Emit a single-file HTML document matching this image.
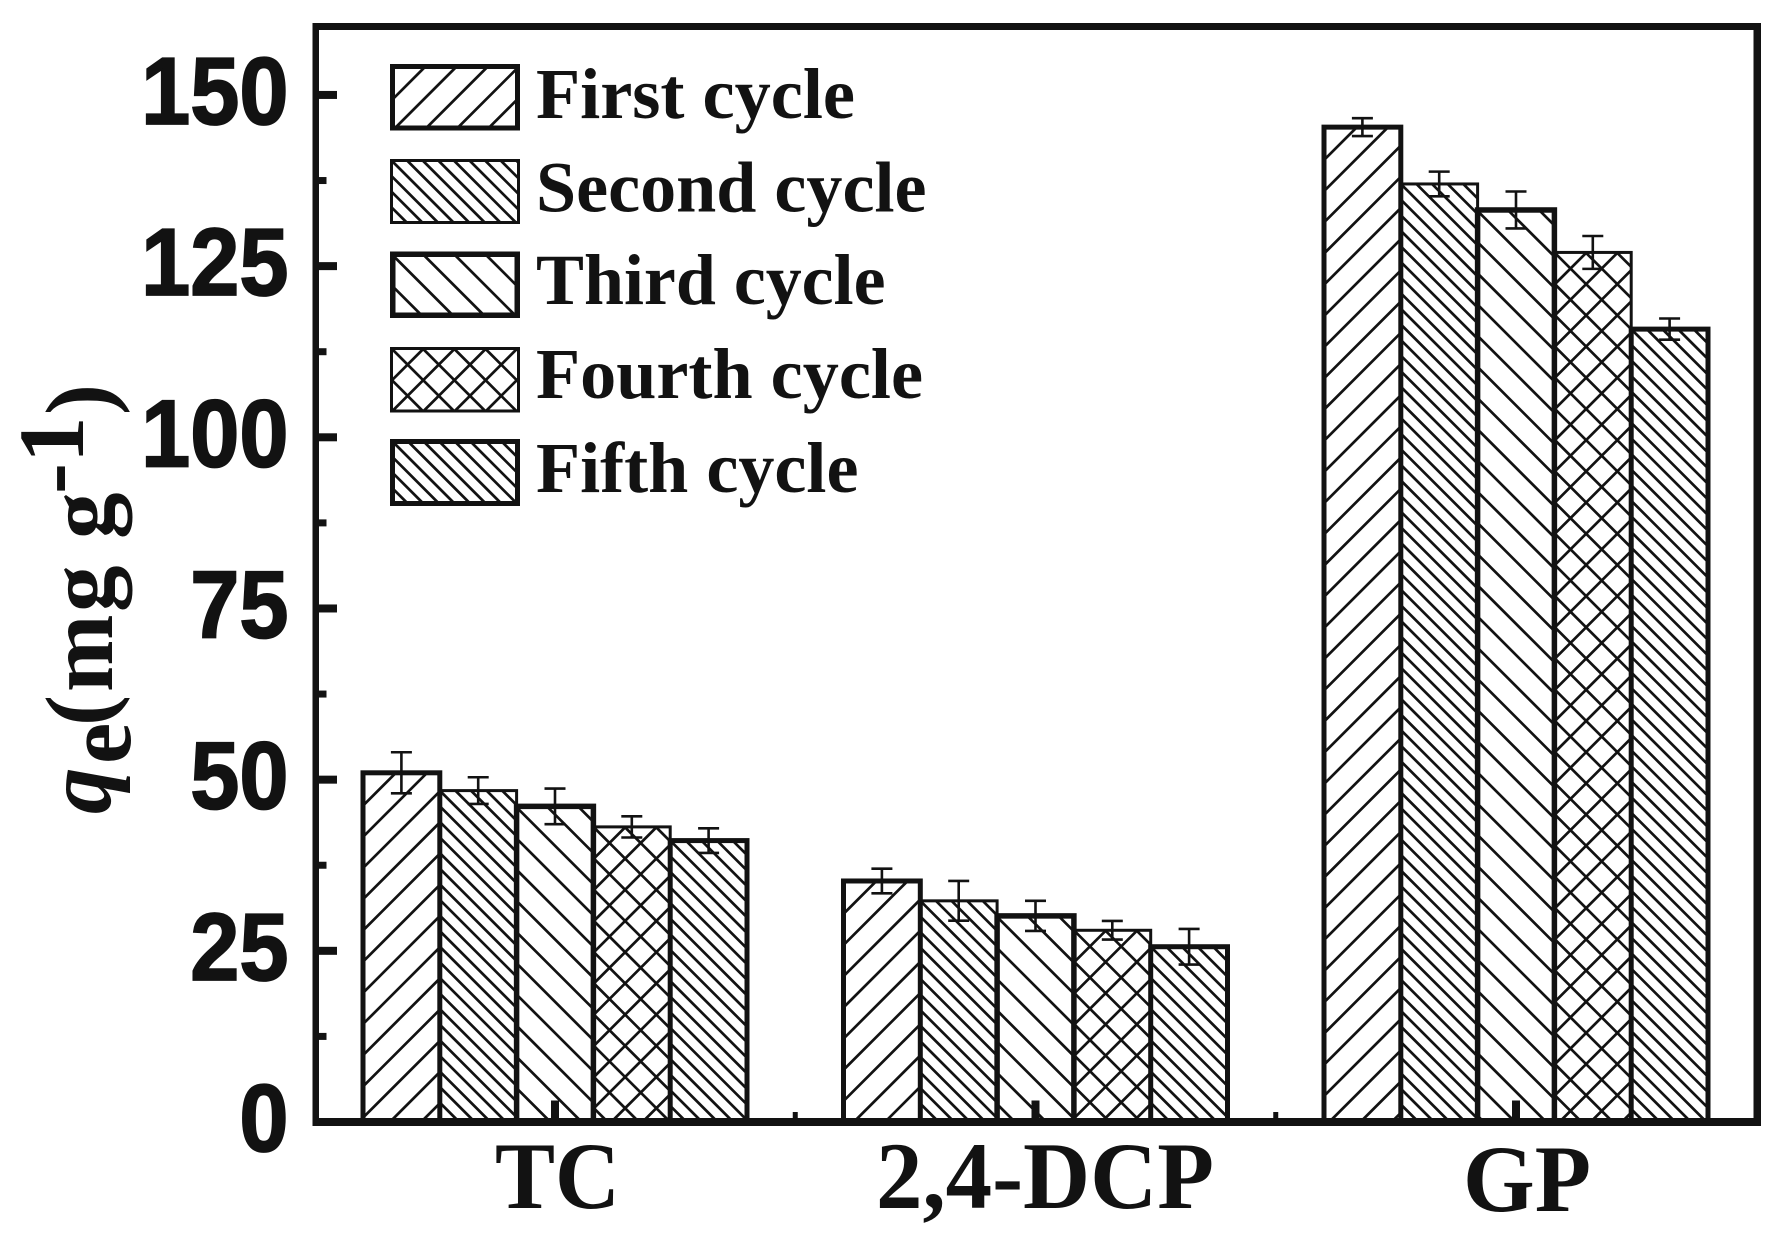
<!DOCTYPE html>
<html lang="en">
<head>
<meta charset="utf-8">
<title>Adsorption capacity over five cycles</title>
<style>
html,body{margin:0;padding:0;background:#fff;}
svg{display:block;}
.tick-label{font-family:"Liberation Sans",Arial,sans-serif;font-weight:700;font-size:96px;fill:#121212;stroke:#121212;stroke-width:1.8px;text-anchor:end;}
.serif{font-family:"Liberation Serif","Times New Roman",serif;font-weight:700;fill:#121212;}
</style>
</head>
<body>
<svg id="chart" xmlns="http://www.w3.org/2000/svg" width="1781" height="1243" viewBox="0 0 1781 1243">
  <rect x="0" y="0" width="1781" height="1243" fill="#ffffff"/>
  <g id="bars"></g>
  <g id="errors"></g>
  <g id="legend"></g>
  <g id="axes" fill="#121212">
    <rect x="312.5" y="23" width="1448.5" height="7"/>
    <rect x="1753.5" y="23" width="7.5" height="1103"/>
    <rect x="312.5" y="23" width="6.5" height="1103"/>
    <rect x="312.5" y="1118" width="1448.5" height="8"/>
  </g>
  <g id="y-ticks"></g>
  <g id="x-ticks"></g>
  <g transform="translate(112,815) rotate(-90)">
    <text class="serif" font-size="93" xml:space="preserve"><tspan x="1" y="-2" font-style="italic">q</tspan><tspan x="51" y="18">e</tspan><tspan x="89" y="-2">(</tspan><tspan x="123" y="0">m</tspan><tspan x="203" y="0">g</tspan> <tspan x="276" y="0">g</tspan><tspan x="321" y="-29">-</tspan><tspan x="352" y="-29">1</tspan><tspan x="400" y="-2">)</tspan></text>
  </g>
</svg>
<script>
// ---- chart data ----
const categories = ["TC", "2,4-DCP", "GP"];
const seriesNames = ["First cycle", "Second cycle", "Third cycle", "Fourth cycle", "Fifth cycle"];
const firstCycle  = [51.0, 35.2, 145.3];
const secondCycle = [48.4, 32.3, 137.0];
const thirdCycle  = [46.1, 30.1, 133.2];
const fourthCycle = [43.1, 28.0, 127.0];
const fifthCycle  = [41.1, 25.6, 115.8];
const firstError  = [3.0, 1.8, 1.3];
const secondError = [1.95, 2.9, 1.8];
const thirdError  = [2.6, 2.2, 2.7];
const fourthError = [1.55, 1.36, 2.4];
const fifthError  = [1.8, 2.6, 1.55];
const yTickLabels = ["0", "25", "50", "75", "100", "125", "150"];

const seriesValues = [firstCycle, secondCycle, thirdCycle, fourthCycle, fifthCycle];
const seriesErrors = [firstError, secondError, thirdError, fourthError, fifthError];

// ---- axis functions ----
const SVGNS = "http://www.w3.org/2000/svg";
const INK = "#121212";
const Y_ZERO = 1122, Y_PER_UNIT = 6.847;
const X_FIRST = 555, X_STEP = 480.5, BAR_W = 76.8;
function yScale(v) { return Y_ZERO - v * Y_PER_UNIT; }
function xCenter(i) { return X_FIRST + i * X_STEP; }
function barLeft(i, s) { return xCenter(i) + (s - 2.5) * BAR_W; }

// ---- series styling ----
const PERIOD = 31.2;
const hatchKinds = ["fwd", "backFine", "back", "cross", "backFine"];
const strokeWidths = [5, 3, 5.5, 3, 5];

function hatchPath(left, top, w, h, kind) {
  let d = "";
  function fwd(P, a) {
    const base = left + top + a;
    for (let n = -1; base + n * P < left + w + top + h; n++) {
      const s = base + n * P;
      if (s <= left + top) continue;
      const x1 = Math.max(left, s - (top + h));
      const x2 = Math.min(left + w, s - top);
      if (x2 > x1) d += "M" + x1.toFixed(2) + "," + (s - x1).toFixed(2) + "L" + x2.toFixed(2) + "," + (s - x2).toFixed(2);
    }
  }
  function back(P, a) {
    const base = left - top + a;
    for (let n = Math.ceil((h + P) / P) * -1; base + n * P < left + w - top; n++) {
      const k = base + n * P;
      const x1 = Math.max(left, k + top);
      const x2 = Math.min(left + w, k + top + h);
      if (x2 > x1) d += "M" + x1.toFixed(2) + "," + (x1 - k).toFixed(2) + "L" + x2.toFixed(2) + "," + (x2 - k).toFixed(2);
    }
  }
  if (kind === "fwd") fwd(PERIOD, 1.7);
  if (kind === "back") back(PERIOD, -1);
  if (kind === "backFine") back(PERIOD / 2, 0);
  if (kind === "cross") { fwd(PERIOD, 1); back(PERIOD, 0); }
  return d;
}

function addShape(parent, tag, attrs) {
  const el = document.createElementNS(SVGNS, tag);
  for (const k in attrs) el.setAttribute(k, attrs[k]);
  parent.appendChild(el);
  return el;
}

// ---- bars ----
const barsG = document.getElementById("bars");
categories.forEach(function (cat, i) {
  seriesValues.forEach(function (vals, s) {
    const left = barLeft(i, s);
    const top = yScale(vals[i]);
    const hatch = addShape(barsG, "path", { d: hatchPath(left, top, BAR_W, Y_ZERO - top, hatchKinds[s]), fill: "none", stroke: INK, "stroke-width": 2.7 });
    
    
    const bar = addShape(barsG, "rect", { x: left, y: top, width: BAR_W, height: Y_ZERO - top, fill: "none", stroke: INK, "stroke-width": strokeWidths[s] });
    
    
  });
});

// ---- error bars ----
const errG = document.getElementById("errors");
categories.forEach(function (cat, i) {
  seriesValues.forEach(function (vals, s) {
    const cx = barLeft(i, s) + BAR_W / 2;
    const hi = yScale(vals[i] + seriesErrors[s][i]);
    const lo = yScale(vals[i] - seriesErrors[s][i]);
    const cap = 10.5;
    const err = addShape(errG, "path", {
      d: "M" + (cx - cap) + "," + hi + "H" + (cx + cap) + "M" + cx + "," + hi + "V" + lo + "M" + (cx - cap) + "," + lo + "H" + (cx + cap),
      fill: "none", stroke: INK, "stroke-width": 2.6
    });
    
    
  });
});

// ---- y ticks and labels ----
const yG = document.getElementById("y-ticks");
yTickLabels.forEach(function (label, k) {
  const v = Number(label);
  const y = yScale(v);
  if (k > 0) {
    const major = addShape(yG, "rect", { x: 316, y: y - 4, width: 21, height: 8, fill: INK });
    
    
  }
  if (k < yTickLabels.length - 1) {
    const minor = addShape(yG, "rect", { x: 316, y: yScale(v + 12.5) - 3.5, width: 10.5, height: 7, fill: INK });
    
    
  }
  const t = addShape(yG, "text", { class: "tick-label", transform: "translate(288.5," + (y + 29) + ") scale(0.92,1)" });
  t.textContent = label;
  
  
});

// ---- x ticks and labels ----
const xG = document.getElementById("x-ticks");
const xLabelBox = [[495, 125, 1208], [876, 338, 1208], [1463, 128, 1211]];
categories.forEach(function (cat, i) {
  const cx = xCenter(i);
  const major = addShape(xG, "rect", { x: cx - 4, y: 1100.5, width: 8, height: 18, fill: INK });
  
  
  if (i < categories.length - 1) {
    const minor = addShape(xG, "rect", { x: cx + X_STEP / 2 - 2.5, y: 1112, width: 5, height: 7, fill: INK });
    
    
  }
  const t = addShape(xG, "text", { class: "serif", x: xLabelBox[i][0], y: xLabelBox[i][2], "font-size": 95, textLength: xLabelBox[i][1], lengthAdjust: "spacingAndGlyphs" });
  t.textContent = cat;
  
  
});

// ---- legend ----
const legendG = document.getElementById("legend");
const swatchBox = [[64, 130.5], [159, 224], [251.5, 318], [347, 412.5], [439, 506]];
const legendBase = [118, 211.5, 304, 398, 492];
const legendWidth = [319, 390.5, 349.5, 387, 322.5];
const legendLeft = [536, 536, 536, 536, 536];
seriesNames.forEach(function (name, s) {
  const sw = strokeWidths[s];
  const left = 390 + sw / 2, w = 130 - sw;
  const top = swatchBox[s][0] + sw / 2, h = swatchBox[s][1] - swatchBox[s][0] - sw;
  const hatch = addShape(legendG, "path", { d: hatchPath(left, top, w, h, hatchKinds[s]), fill: "none", stroke: INK, "stroke-width": 2.7 });
  
  
  const box = addShape(legendG, "rect", { x: left, y: top, width: w, height: h, fill: "none", stroke: INK, "stroke-width": sw });
  
  
  const t = addShape(legendG, "text", { class: "serif", x: legendLeft[s], y: legendBase[s], "font-size": 72, textLength: legendWidth[s], lengthAdjust: "spacingAndGlyphs" });
  t.textContent = name;
  
  
});
</script>
</body>
</html>
